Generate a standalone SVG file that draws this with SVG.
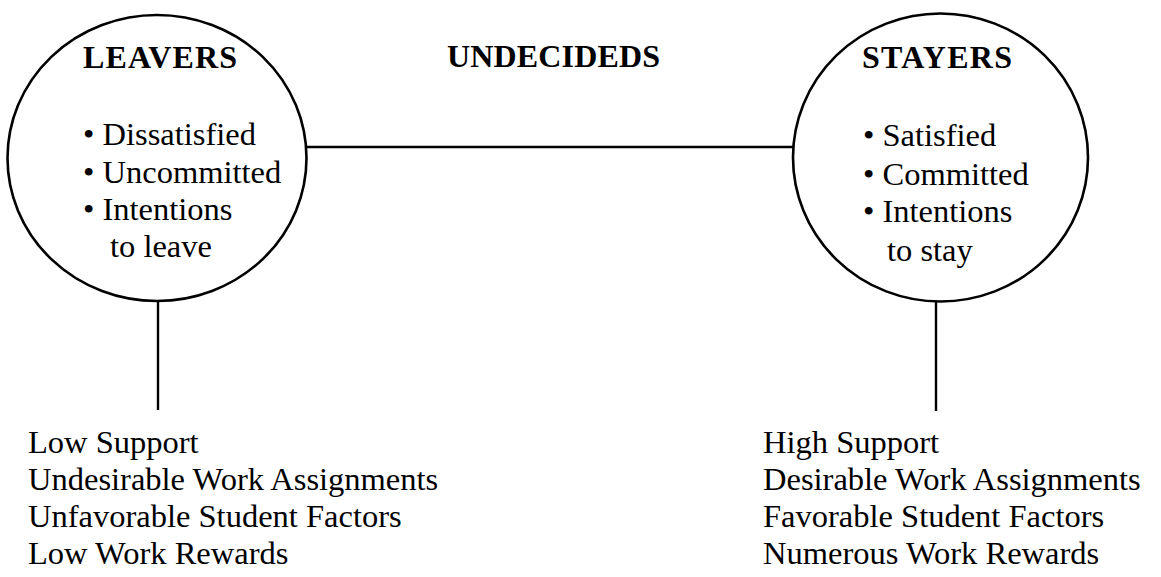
<svg xmlns="http://www.w3.org/2000/svg" width="1161" height="577" viewBox="0 0 1161 577">
<style>
.c{fill:none;stroke:#000;stroke-width:2.6}
.l{stroke:#000;stroke-width:2.4;fill:none}
.h{font-family:"Liberation Serif","Times New Roman",serif;font-weight:bold;font-size:32px;fill:#000}
.t{font-family:"Liberation Serif","Times New Roman",serif;font-size:32.5px;fill:#000}
</style>
<rect width="1161" height="577" fill="#fff"/>
<g id="connectors">
<line class="l" x1="306" y1="147" x2="793" y2="147"/>
<line class="l" x1="158" y1="301" x2="158" y2="410"/>
<line class="l" x1="936" y1="301" x2="936" y2="411"/>
</g>
<g id="leavers">
<ellipse class="c" cx="157" cy="158" rx="149.5" ry="143"/>
<text class="h" x="83" y="68" textLength="154">LEAVERS</text>
<text class="t" x="83" y="145">• Dissatisfied</text>
<text class="t" x="83" y="183">• Uncommitted</text>
<text class="t" x="83" y="220">• Intentions</text>
<text class="t" x="110" y="257">to leave</text>
</g>
<g id="undecideds">
<text class="h" x="447" y="67" textLength="213">UNDECIDEDS</text>
</g>
<g id="stayers">
<ellipse class="c" cx="940.5" cy="157.5" rx="147.5" ry="144"/>
<text class="h" x="862" y="68" textLength="150">STAYERS</text>
<text class="t" x="863" y="146">• Satisfied</text>
<text class="t" x="863" y="185">• Committed</text>
<text class="t" x="863" y="222">• Intentions</text>
<text class="t" x="887" y="261">to stay</text>
</g>
<g id="leavers-factors">
<text class="t" x="28" y="453">Low Support</text>
<text class="t" x="28" y="490">Undesirable Work Assignments</text>
<text class="t" x="28" y="527">Unfavorable Student Factors</text>
<text class="t" x="28" y="564">Low Work Rewards</text>
</g>
<g id="stayers-factors">
<text class="t" x="763" y="453">High Support</text>
<text class="t" x="763" y="490">Desirable Work Assignments</text>
<text class="t" x="763" y="527">Favorable Student Factors</text>
<text class="t" x="763" y="564">Numerous Work Rewards</text>
</g>
</svg>
